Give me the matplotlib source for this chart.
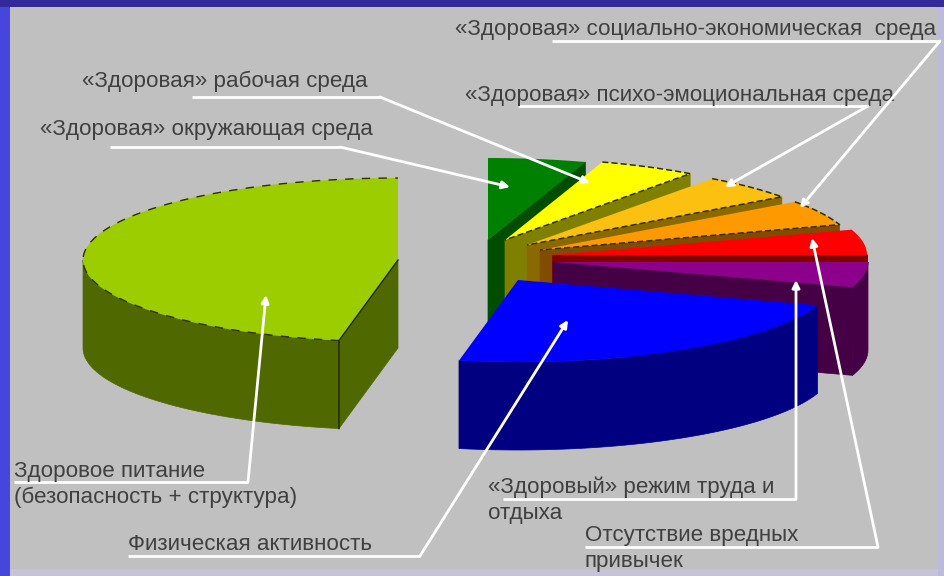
import numpy as np
import matplotlib
matplotlib.use("Agg")
import matplotlib.pyplot as plt
from matplotlib.patches import Rectangle

plt.rcParams['font.family'] = ['Liberation Sans', 'DejaVu Sans']

# shares of each factor, percent, clockwise from 12 o'clock
shares = [5, 5, 5, 5, 5, 5, 23, 47]
top_colors = ['#008000', '#ffff00', '#fcc010', '#ff9900', '#ff0000', '#8c008c', '#0000ff', '#9bcd00']
side_colors = ['#004d00', '#808000', '#8a6a00', '#804d00', '#800000', '#450045', '#000080', '#506800']

labels = [
    '«Здоровая» социально-экономическая  среда',
    '«Здоровая» рабочая среда',
    '«Здоровая» психо-эмоциональная среда',
    '«Здоровая» окружающая среда',
    'Здоровое питание',
    '(безопасность + структура)',
    'Физическая активность',
    '«Здоровый» режим труда и',
    'отдыха',
    'Отсутствие вредных',
    'привычек',
]
label_pos = [(455, 29), (82, 81), (465, 95), (40, 130), (14, 471), (14, 497),
             (128, 544), (488, 487), (488, 514), (585, 536), (585, 562)]

# where the apex of every exploded slice sits, in pixels
apexes = [(488, 240), (505, 240), (527, 245), (540, 250), (552, 255), (553, 262), (518, 280), (398, 260)]
dashed = [False, True, True, True, False, False, False, False]

leaders = [
    [(552, 41), (940, 41), (800, 208)],
    [(192, 97), (380, 97), (590, 183)],
    [(518, 106), (868, 106), (725, 187)],
    [(110, 147), (340, 147), (510, 187)],
    [(14, 482), (248, 482), (266, 295)],
    [(128, 556), (420, 556), (568, 320)],
    [(503, 499), (796, 499), (796, 280)],
    [(585, 547), (878, 547), (812, 238)],
]

RX, RY, DEPTH = 315, 82, 88


def arc(apex, a0, a1):
    t = np.radians(np.linspace(a0, a1, 80))
    return apex[0] + RX * np.cos(t), apex[1] - RY * np.sin(t), np.sin(t)


def draw_face(ax, apex, px, py, side):
    ax.fill([apex[0], px, px, apex[0]],
            [apex[1], py, py + DEPTH, apex[1] + DEPTH],
            color=side, lw=0.5)


def draw_slice(ax, apex, a0, a1, top, side, dash):
    x, y, s = arc(apex, a0, a1)

    # cut faces, only those turned towards the viewer
    if np.cos(np.radians(a1)) > 0.01:
        draw_face(ax, apex, x[-1], y[-1], side)
    if np.cos(np.radians(a0)) < -0.01:
        draw_face(ax, apex, x[0], y[0], side)

    # outer wall below the horizontal axis of the ellipse
    m = s < 0.01
    if m.any():
        ax.fill(np.r_[x[m], x[m][::-1]], np.r_[y[m], y[m][::-1] + DEPTH], color=side, lw=0.5)

    ax.fill(np.r_[apex[0], x], np.r_[apex[1], y], color=top, lw=0)

    if dash:
        ax.plot(np.r_[x, apex[0]], np.r_[y, apex[1]], color='#303000', lw=1.1, ls=(0, (4, 2)))


fig = plt.figure(figsize=(9.45, 5.76), dpi=100, facecolor='#c0c0c0')
ax = fig.add_axes([0, 0, 1, 1])
ax.set_xlim(0, 945)
ax.set_ylim(576, 0)
ax.axis('off')

# slide frame
ax.add_patch(Rectangle((0, 0), 10, 576, color='#4646dc', lw=0))
ax.add_patch(Rectangle((0, 0), 945, 7, color='#33299a', lw=0))
ax.add_patch(Rectangle((10, 569), 935, 7, color='#c6c2da', lw=0))
ax.add_patch(Rectangle((938, 7), 7, 569, color='#bdbbdc', lw=0))

angle = 90.0
for share, apex, top, side, dash in zip(shares, apexes, top_colors, side_colors, dashed):
    next_angle = angle - share * 3.6
    draw_slice(ax, apex, angle, next_angle, top, side, dash)
    angle = next_angle

# dark edges of the big slice
big_x, big_y, _ = arc(apexes[-1], angle + shares[-1] * 3.6, angle)
ax.plot([apexes[-1][0], big_x[0], big_x[0]], [apexes[-1][1], big_y[0], big_y[0] + DEPTH],
        color='#1c2400', lw=1)
ax.plot(big_x, big_y, color='#303000', lw=1, ls=(0, (6, 6)))

for text, (tx, ty) in zip(labels, label_pos):
    ax.text(tx, ty, text, fontsize=16.1, color='#404040', va='center', ha='left', clip_on=True)

for pts in leaders:
    xs, ys = zip(*pts)
    ax.plot(xs[:2], ys[:2], color='white', lw=2, solid_capstyle='butt')
    ax.annotate('', xy=pts[2], xytext=pts[1],
                arrowprops=dict(arrowstyle='-|>', color='white', lw=2, mutation_scale=11,
                                shrinkA=0, shrinkB=0))

fig.savefig('out.png', dpi=100)
